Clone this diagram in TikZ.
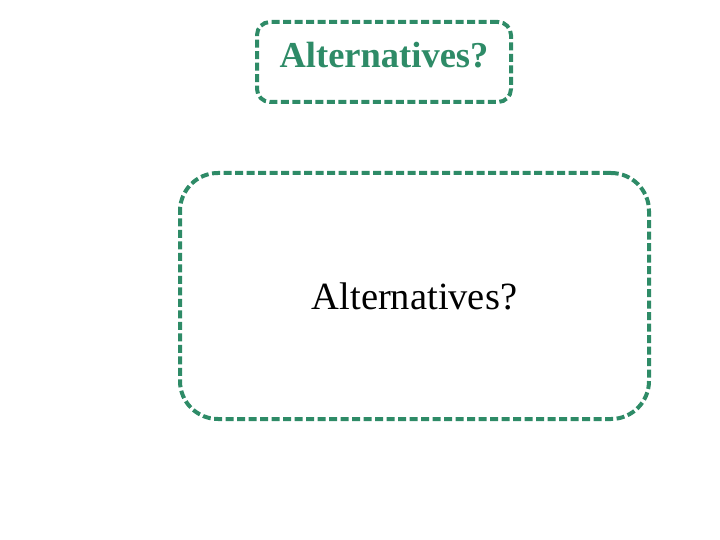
\documentclass[tikz,border=0pt]{standalone}
\usepackage{fontspec}
\setmainfont{Liberation Serif}
\usepackage{xcolor}
\definecolor{altgreen}{HTML}{2E8B67}
\tikzset{
  dashbox/.style={draw=altgreen, line width=4pt, dash pattern=on 8pt off 3.5pt, line cap=butt},
  titletext/.style={text=altgreen, font=\fontsize{36.5}{40}\selectfont\bfseries},
  bodytext/.style={text=black, font=\fontsize{38.5}{42}\selectfont},
}
\begin{document}
\begin{tikzpicture}[x=1pt,y=-1pt]
  \useasboundingbox (0,0) rectangle (720,540);
  \node[dashbox, titletext, rounded corners=13pt, minimum width=254pt, minimum height=80pt,
        text depth=14pt, inner sep=0pt] (title) at (384,62) {Alternatives?};
  \node[dashbox, bodytext, rounded corners=38pt, minimum width=469pt, minimum height=246pt,
        inner sep=0pt] (body) at (414.5,296) {Alternatives?};
\end{tikzpicture}
\end{document}
